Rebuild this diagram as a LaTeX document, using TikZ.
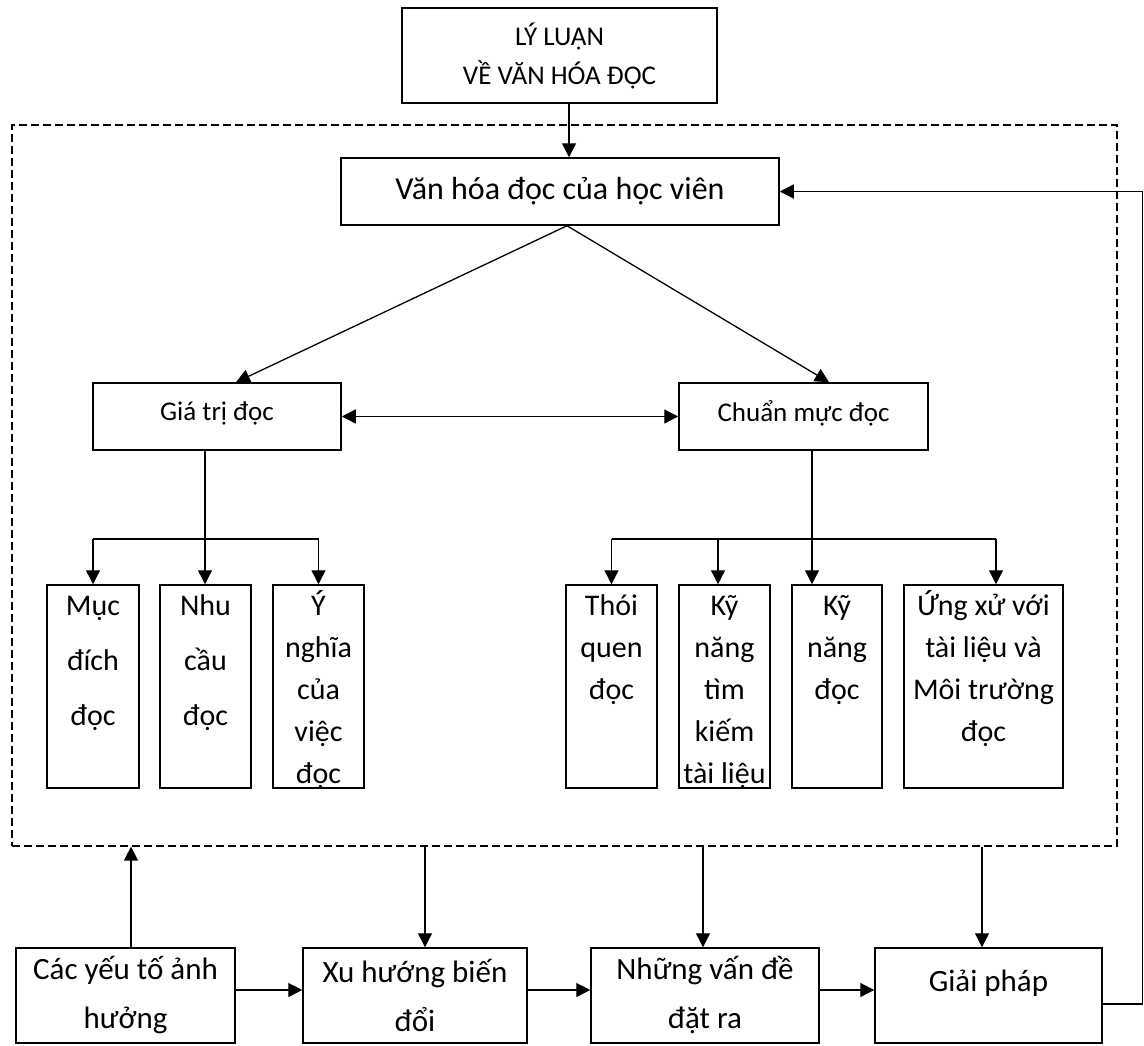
\documentclass[tikz,border=0pt]{standalone}
\usepackage{fontspec}
\setmainfont{Carlito}
\usetikzlibrary{arrows.meta,calc}
\begin{document}
\begin{tikzpicture}[x=1pt,y=-1pt,
  box/.style={draw, line width=1.5pt, inner sep=0pt, align=center},
  frame/.style={draw, line width=1.2pt, dash pattern=on 8pt off 4pt, inner sep=0pt},
  conn/.style={line width=1.3pt},
  arr/.style={conn, -{Triangle[length=14pt,width=14pt]}},
  darr/.style={conn, {Triangle[length=14pt,width=14pt]}-{Triangle[length=14pt,width=14pt]}},
  txt/.style={inner sep=0pt, align=center, anchor=north},
  ftop/.style={font=\fontsize{27}{39}\selectfont},
  ftitle/.style={font=\fontsize{32}{38}\selectfont},
  fmid/.style={font=\fontsize{27}{32}\selectfont},
  fchild/.style={font=\fontsize{30}{42}\selectfont},
  fchildw/.style={font=\fontsize{30}{55}\selectfont},
  fbot/.style={font=\fontsize{31}{49}\selectfont},
]
\useasboundingbox (0,0) rectangle (1144,1045);

% dashed frame
\node[frame, minimum width=1105pt, minimum height=721pt] (frame) at (564.5,485.5) {};

% top boxes
\node[box, ftop, minimum width=315pt, minimum height=95pt] (top) at (559.5,55.5) {LÝ LUẬN\\VỀ VĂN HÓA ĐỌC};
\node[box, ftitle, minimum width=438pt, minimum height=67pt] (vh) at (560,191.5) {Văn hóa đọc của học viên};

% middle boxes
\node[box, minimum width=248pt, minimum height=67pt] (gt) at (217,416.5) {};
\node[box, minimum width=249pt, minimum height=67pt] (cm) at (803.5,416.5) {};
\node[inner sep=0pt, fmid] (tgt) at (217,413) {Giá trị đọc};
\node[inner sep=0pt, fmid] (tcm) at (803.5,413) {Chuẩn mực đọc};

% child boxes
\node[box, minimum width=92pt, minimum height=203pt] (muc) at (93,686.5) {};
\node[box, minimum width=91pt, minimum height=203pt] (nhu) at (205.5,686.5) {};
\node[box, minimum width=91pt, minimum height=203pt] (yng) at (318.5,686.5) {};
\node[box, minimum width=91pt, minimum height=203pt] (thoi) at (611.5,686.5) {};
\node[box, minimum width=91pt, minimum height=203pt] (kntk) at (724.5,686.5) {};
\node[box, minimum width=90pt, minimum height=203pt] (knd) at (837,686.5) {};
\node[box, minimum width=159pt, minimum height=203pt] (ux) at (983.5,686.5) {};

\node[txt, fchildw] (tmuc) at ($(muc.north)+(0,5)$) {\rule{0pt}{26pt}Mục\\đích\\đọc};
\node[txt, fchildw] (tnhu) at ($(nhu.north)+(0,5)$) {\rule{0pt}{26pt}Nhu\\cầu\\đọc};
\node[txt, fchild] (tyng) at ($(yng.north)+(0,5)$) {\rule{0pt}{26pt}Ý\\nghĩa\\của\\việc\\đọc};
\node[txt, fchild] (tthoi) at ($(thoi.north)+(0,5)$) {\rule{0pt}{26pt}Thói\\quen\\đọc};
\node[txt, fchild] (tkntk) at ($(kntk.north)+(0,5)$) {\rule{0pt}{26pt}Kỹ\\năng\\tìm\\kiếm\\tài liệu};
\node[txt, fchild] (tknd) at ($(knd.north)+(0,5)$) {\rule{0pt}{26pt}Kỹ\\năng\\đọc};
\node[txt, fchild] (tux) at ($(ux.north)+(0,5)$) {\rule{0pt}{26pt}Ứng xử với\\tài liệu và\\Môi trường\\đọc};

% bottom boxes
\node[box, fbot, minimum width=219pt, minimum height=95pt] (cyt) at (125.5,995.5) {Các yếu tố ảnh\\hưởng};
\node[box, fbot, minimum width=224pt, minimum height=95pt] (xh) at (415,995.5) {Xu hướng biến\\đổi};
\node[box, fbot, minimum width=228pt, minimum height=95pt] (nvd) at (705,995.5) {Những vấn đề\\đặt ra};
\node[box, minimum width=227pt, minimum height=95pt] (gp) at (988.5,995.5) {};
\node[inner sep=0pt, fbot] (tgp) at (988.5,983) {Giải pháp};

% helper coordinates
\coordinate (ax) at (569,0);
\coordinate (gb) at (205,539);
\coordinate (cb) at (812,539);
\coordinate (c1) at (131,0);
\coordinate (c2) at (425,0);
\coordinate (c3) at (703,0);
\coordinate (c4) at (982,0);
\coordinate (h) at (0,990);
\coordinate (fb) at (0,1004);
\coordinate (fbx) at (1142.5,0);
\coordinate (kx) at (718,0);
\coordinate (ex) at (996,0);

% connectors top
\draw[arr] (top.south -| ax) -- (vh.north -| ax);
\draw[arr] ($(vh.south)+(7,0)$) -- ($(gt.north)+(19,0)$);
\draw[arr] ($(vh.south)+(7,0)$) -- ($(cm.north)+(25.5,0)$);
\draw[darr] (gt.east) -- (cm.west);

% Giá trị bus
\draw[conn] (gt.south -| gb) -- (gb);
\draw[conn] (muc.north |- gb) -- (yng.north |- gb);
\draw[arr] (muc.north |- gb) -- (muc.north);
\draw[arr] (gb) -- (nhu.north -| gb);
\draw[arr] (yng.north |- gb) -- (yng.north);

% Chuẩn mực bus
\draw[conn] (cm.south -| cb) -- (cb);
\draw[conn] (thoi.north |- cb) -- (ex |- cb);
\draw[arr] (thoi.north |- cb) -- (thoi.north);
\draw[arr] (kx |- cb) -- (kntk.north -| kx);
\draw[arr] (cb) -- (knd.north -| cb);
\draw[arr] (ex |- cb) -- (ux.north -| ex);

% bottom connectors
\draw[arr] (cyt.north -| c1) -- (frame.south -| c1);
\draw[arr] (frame.south -| c2) -- (xh.north -| c2);
\draw[arr] (frame.south -| c3) -- (nvd.north -| c3);
\draw[arr] (frame.south -| c4) -- (gp.north -| c4);
\draw[arr] (cyt.east |- h) -- (xh.west |- h);
\draw[arr] (xh.east |- h) -- (nvd.west |- h);
\draw[arr] (nvd.east |- h) -- (gp.west |- h);

% feedback
\draw[arr] (gp.east |- fb) -- (fbx |- fb) -- (fbx |- vh.east) -- (vh.east);
\end{tikzpicture}
\end{document}
